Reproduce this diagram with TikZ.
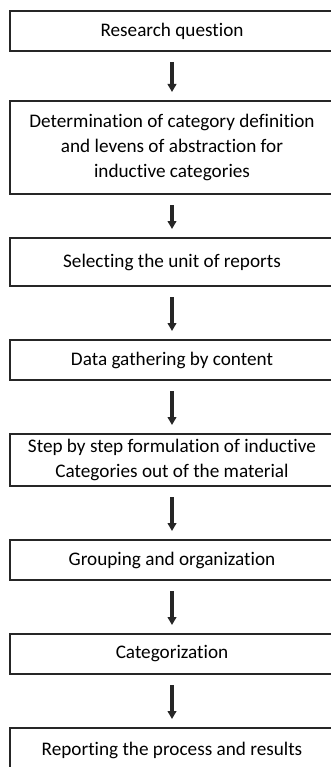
\documentclass[tikz,border=0pt]{standalone}
\usepackage{fontspec}
\setmainfont{Carlito}[Ligatures=NoCommon]
\usetikzlibrary{arrows.meta,positioning}

\begin{document}
\begin{tikzpicture}[node distance=39pt,>={Triangle[width=6.5pt,length=6pt]}]
  \tikzstyle{box}=[draw=black!85,line width=1.5pt,minimum width=243pt,minimum height=30pt,inner ysep=1pt,align=center,font=\fontsize{14.4}{18.5}\selectfont]
  \tikzstyle{flow}=[->,line width=2.6pt,black!85,shorten <=7.5pt,shorten >=6pt]
  \useasboundingbox (0,0) rectangle (247.5pt,-575.25pt);
  \node[box,anchor=north] (rq) at (129pt,-7.5pt) {Research question};
  \node[box,below=36pt of rq,minimum height=69.75pt] (def) {Determination of category definition\\and levens of abstraction for\\inductive categories};
  \node[box,below=31.5pt of def,minimum height=36pt] (unit) {Selecting the unit of reports};
  \node[box,below=of unit] (data) {Data gathering by content};
  \node[box,below=of data,minimum height=39pt] (form) {Step by step formulation of inductive\\Categories out of the material};
  \node[box,below=of form] (group) {Grouping and organization};
  \node[box,below=of group] (cat) {Categorization};
  \node[box,below=of cat,minimum height=34pt] (rep) {Reporting the process and results};
  \draw[flow] (rq)--(def);
  \draw[flow] (def)--(unit);
  \draw[flow] (unit)--(data);
  \draw[flow] (data)--(form);
  \draw[flow] (form)--(group);
  \draw[flow] (group)--(cat);
  \draw[flow] (cat)--(rep);
\end{tikzpicture}
\end{document}
